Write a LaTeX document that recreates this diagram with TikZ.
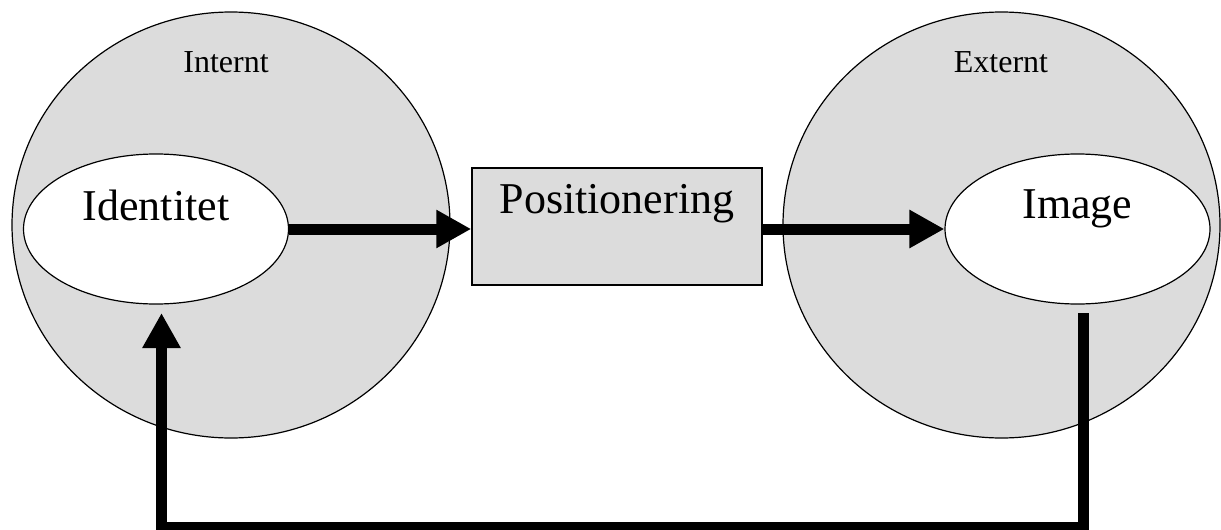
\documentclass[tikz,border=0pt]{standalone}
\usepackage{fontspec}
\setmainfont{Liberation Serif}
\usetikzlibrary{shapes.geometric,arrows.meta}
\definecolor{fillgray}{RGB}{220,220,220}
\begin{document}
\begin{tikzpicture}[x=1pt,y=-1pt,
  outer/.style={ellipse,draw=black,line width=1.2pt,fill=fillgray,inner sep=0pt},
  inner/.style={ellipse,draw=black,line width=1.2pt,fill=white,inner sep=0pt,minimum width=265pt,minimum height=150pt},
  posbox/.style={rectangle,draw=black,line width=1.5pt,fill=fillgray,inner sep=0pt,minimum width=290pt,minimum height=117pt},
  bigtxt/.style={font=\fontsize{44}{50}\selectfont,anchor=base,inner sep=0pt},
  smalltxt/.style={font=\fontsize{32}{36}\selectfont,anchor=base,inner sep=0pt},
  flow/.style={line width=11pt,line join=miter,-{Triangle[width=36pt,length=35pt]}},
  feed/.style={line width=11pt,line join=miter}
]
\useasboundingbox (0,0) rectangle (1221,530);
\node[outer,minimum width=438pt,minimum height=426pt] (circL) at (231,225) {};
\node[outer,minimum width=437pt,minimum height=426pt] (circR) at (1001.5,225) {};
\node[inner] (idL) at (156,229) {};
\node[inner] (imR) at (1077.5,229) {};
\node[posbox] (pos) at (617,226.5) {};
\node[smalltxt] (tInt) at (226,72) {Internt};
\node[smalltxt] (tExt) at (1001,72) {Externt};
\node[bigtxt] (tId) at (156,220) {Identitet};
\node[bigtxt] (tIm) at (1077.5,218) {Image};
\node[bigtxt] (tPos) at (617,213) {Positionering};
\draw[flow] (idL.east) -- (idL.east -| pos.west);
\draw[flow] (pos.east |- imR.west) -- (imR.west);
\coordinate (fbA) at (1083,313);
\coordinate (fbB) at (161.5,313);
\coordinate (bot) at (0,527.5);
\draw[feed,-{Triangle[width=36pt,length=35pt]}] (fbA) -- (fbA |- bot) -- (fbB |- bot) -- (fbB);
\end{tikzpicture}
\end{document}
